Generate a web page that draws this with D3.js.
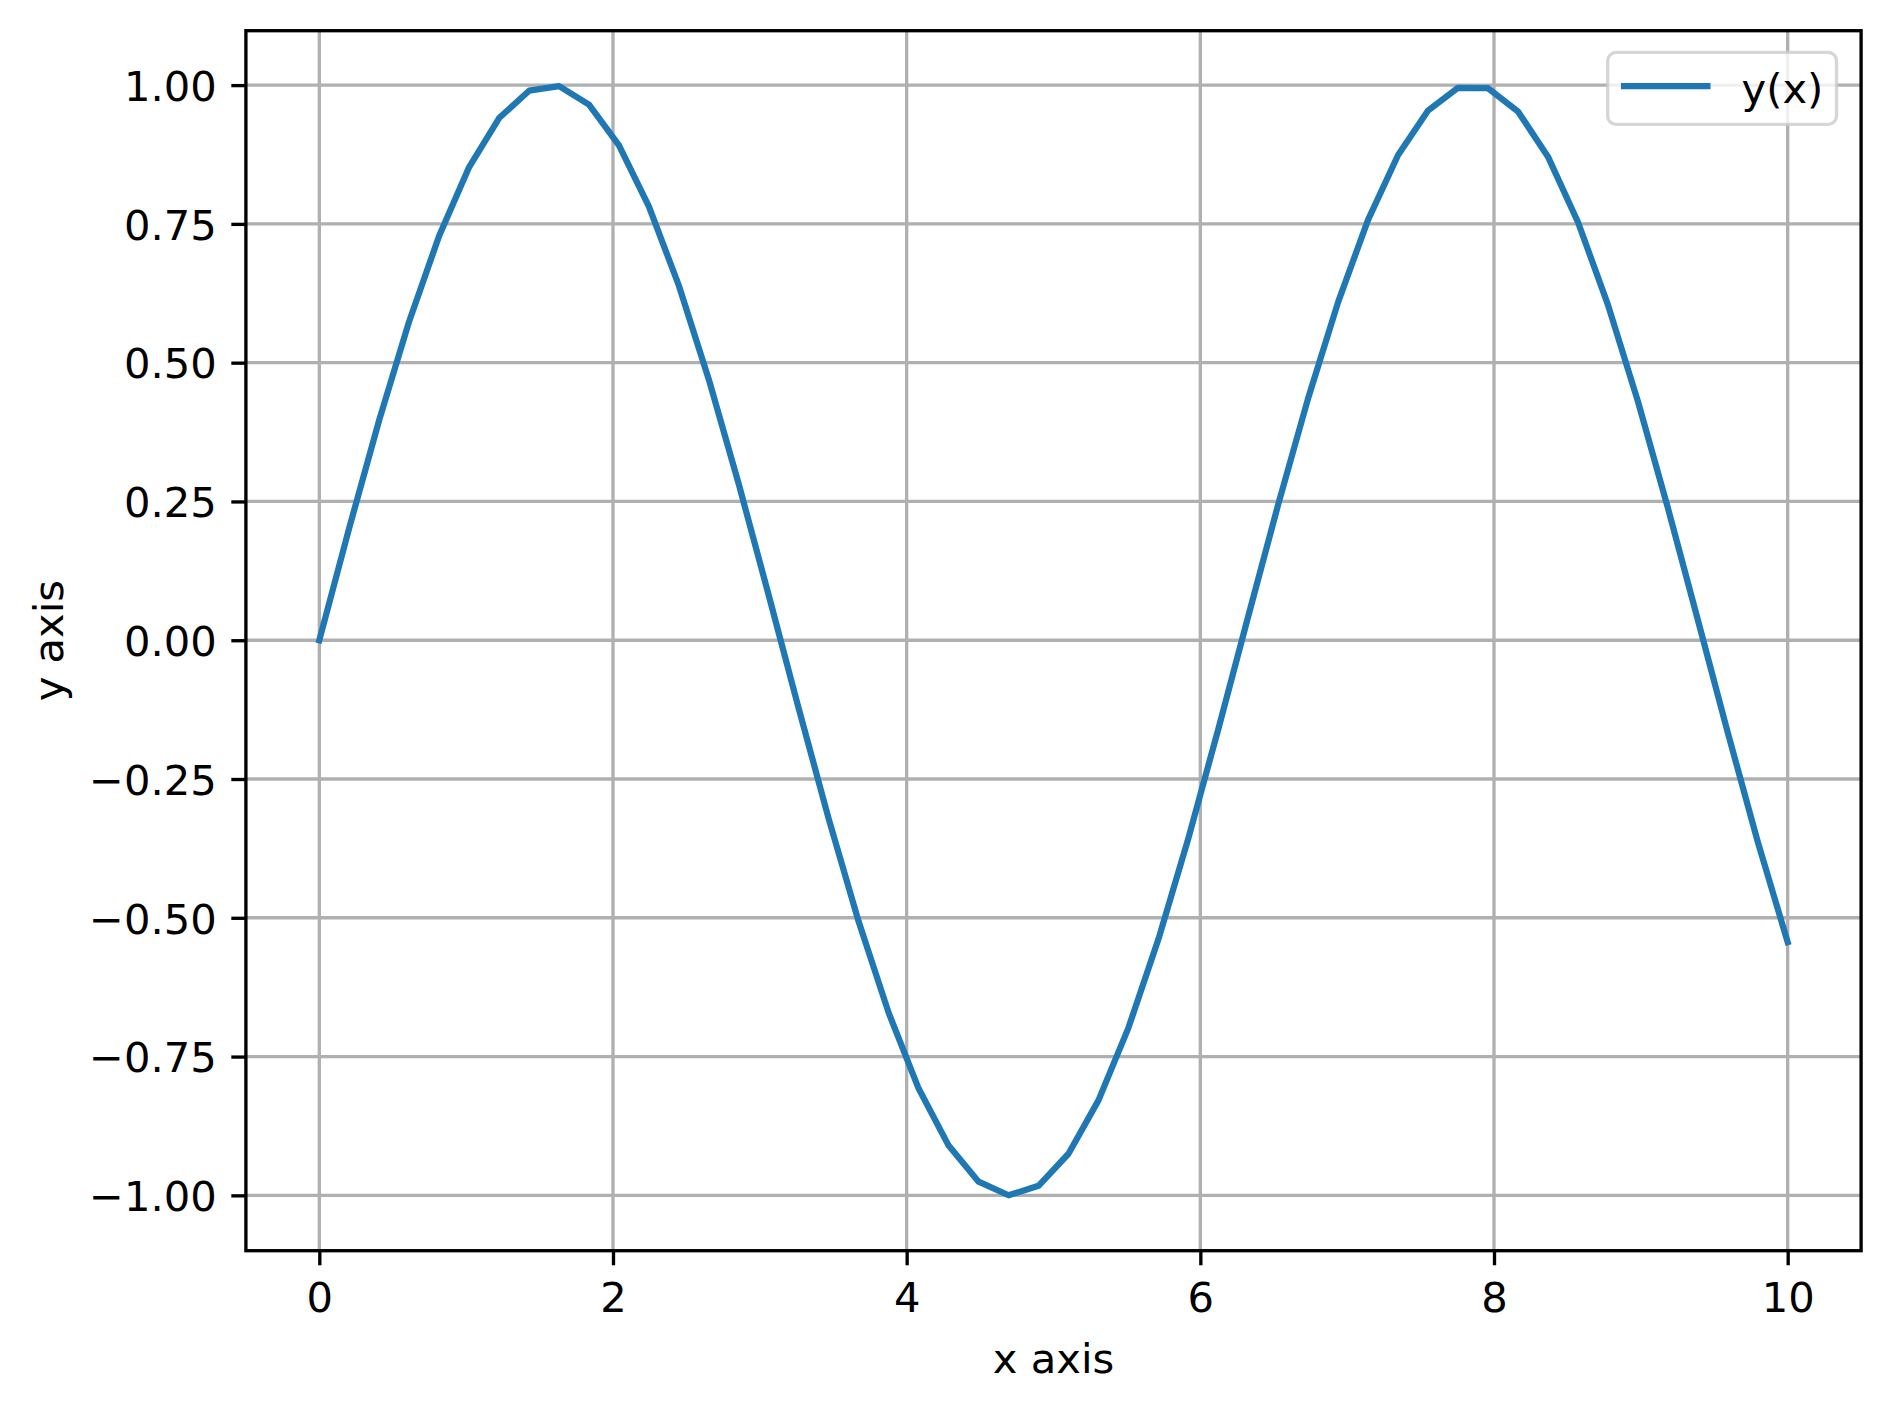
<!DOCTYPE html>
<html>
<head>
<meta charset="utf-8">
<script src="https://cdn.jsdelivr.net/npm/d3@7"></script>
<style>
  html, body { margin: 0; padding: 0; background: #fff; }
  svg { display: block; }
  text { font-family: "DejaVu Sans", sans-serif; fill: #000; }
</style>
</head>
<body>
<script>
// ---- data ----
const xValues = [0, 0.204082, 0.408163, 0.612245, 0.816327, 1.020408, 1.224490, 1.428571, 1.632653, 1.836735,
  2.040816, 2.244898, 2.448980, 2.653061, 2.857143, 3.061224, 3.265306, 3.469388, 3.673469, 3.877551,
  4.081633, 4.285714, 4.489796, 4.693878, 4.897959, 5.102041, 5.306122, 5.510204, 5.714286, 5.918367,
  6.122449, 6.326531, 6.530612, 6.734694, 6.938776, 7.142857, 7.346939, 7.551020, 7.755102, 7.959184,
  8.163265, 8.367347, 8.571429, 8.775510, 8.979592, 9.183673, 9.387755, 9.591837, 9.795918, 10];
const yValues = [0, 0.202672, 0.396924, 0.574706, 0.728635, 0.852321, 0.940635, 0.989903, 0.998087, 0.964846,
  0.891560, 0.781268, 0.638550, 0.469329, 0.280629, 0.080282, -0.123398, -0.321957, -0.507152, -0.671296,
  -0.807581, -0.910347, -0.975328, -0.999829, -0.982831, -0.925041, -0.828861, -0.698276, -0.538705, -0.356779,
  -0.160044, 0.043332, 0.244910, 0.436323, 0.609627, 0.757629, 0.874185, 0.954458, 0.995115, 0.994471,
  0.952553, 0.871099, 0.753487, 0.604612, 0.430627, 0.238776, 0.037015, -0.166283, -0.362678, -0.544021];
const xTicks = [0, 2, 4, 6, 8, 10];
const yTicks = [-1.00, -0.75, -0.50, -0.25, 0.00, 0.25, 0.50, 0.75, 1.00];
const seriesName = "y(x)";
const xLabel = "x axis";
const yLabel = "y axis";

// ---- layout ----
const W = 1890, H = 1410;
const pt = 300 / 72;               // px per point
const fs = 10 * pt;                // 10pt font
const axL = 245.9, axR = 1861.1, axT = 30.7, axB = 1250.7;

const svg = d3.select("body").append("svg")
  .attr("width", W).attr("height", H)
  .attr("viewBox", `0 0 ${W} ${H}`);

const x = d3.scaleLinear().domain([-0.5, 10.5]).range([axL, axR]);
const y = d3.scaleLinear().domain([-1.0997, 1.0980]).range([axB, axT]);

const minus = s => s.replace("-", "\u2212");

// grid
const grid = svg.append("g").attr("stroke", "#b0b0b0").attr("stroke-width", 0.8 * pt);
grid.selectAll("line.gx").data(xTicks).join("line").attr("class", "gx")
  .attr("x1", d => x(d)).attr("x2", d => x(d))
  .attr("y1", axT).attr("y2", axB);
grid.selectAll("line.gy").data(yTicks).join("line").attr("class", "gy")
  .attr("y1", d => y(d)).attr("y2", d => y(d))
  .attr("x1", axL).attr("x2", axR);

// line
const line = d3.line().x((d, i) => x(xValues[i])).y(d => y(d));
svg.append("path")
  .datum(yValues)
  .attr("d", line)
  .attr("fill", "none")
  .attr("stroke", "#1f77b4")
  .attr("stroke-width", 1.5 * pt)
  .attr("stroke-linejoin", "round")
  .attr("stroke-linecap", "square");

// spines
svg.append("rect")
  .attr("x", axL).attr("y", axT)
  .attr("width", axR - axL).attr("height", axB - axT)
  .attr("fill", "none").attr("stroke", "#000").attr("stroke-width", 0.8 * pt);

// axes via d3
const tickLen = 3.5 * pt, tickPad = 3.5 * pt;
const xAxis = d3.axisBottom(x).tickValues(xTicks).tickSize(tickLen).tickPadding(tickPad)
  .tickFormat(d => minus(d3.format("d")(d)));
const gx = svg.append("g").attr("transform", `translate(0,${axB})`).call(xAxis);
gx.select(".domain").remove();
gx.selectAll(".tick line").attr("stroke", "#000").attr("stroke-width", 0.8 * pt);
gx.selectAll(".tick text")
  .attr("font-size", fs).attr("font-family", "DejaVu Sans")
  .attr("dy", null).attr("y", 1312 - axB).attr("fill", "#000");

const yAxis = d3.axisLeft(y).tickValues(yTicks).tickSize(tickLen).tickPadding(tickPad)
  .tickFormat(d => minus(d3.format(".2f")(d)));
const gy = svg.append("g").attr("transform", `translate(${axL},0)`).call(yAxis);
gy.select(".domain").remove();
gy.selectAll(".tick line").attr("stroke", "#000").attr("stroke-width", 0.8 * pt);
gy.selectAll(".tick text")
  .attr("font-size", fs).attr("font-family", "DejaVu Sans")
  .attr("dy", null).attr("y", 0.365 * fs).attr("fill", "#000");

// axis labels
svg.append("text")
  .attr("x", (axL + axR) / 2).attr("y", 1372.7)
  .attr("text-anchor", "middle").attr("font-size", fs)
  .text(xLabel);
svg.append("text")
  .attr("transform", `translate(62.7,${(axT + axB) / 2}) rotate(-90)`)
  .attr("text-anchor", "middle").attr("font-size", fs)
  .text(yLabel);

// legend
const lg = svg.append("g");
lg.append("rect")
  .attr("x", 1607.7).attr("y", 52.4)
  .attr("width", 1836.5 - 1607.7).attr("height", 124.3 - 52.4)
  .attr("rx", 0.2 * fs).attr("ry", 0.2 * fs)
  .attr("fill", "rgba(255,255,255,0.8)")
  .attr("stroke", "rgba(204,204,204,0.8)")
  .attr("stroke-width", 0.8 * pt);
lg.append("line")
  .attr("x1", 1624.1).attr("x2", 1707.4).attr("y1", 86).attr("y2", 86)
  .attr("stroke", "#1f77b4").attr("stroke-width", 1.5 * pt)
  .attr("stroke-linecap", "square");
lg.append("text")
  .attr("x", 1741.5).attr("y", 102.5)
  .attr("font-size", fs)
  .text(seriesName);
</script>
</body>
</html>
